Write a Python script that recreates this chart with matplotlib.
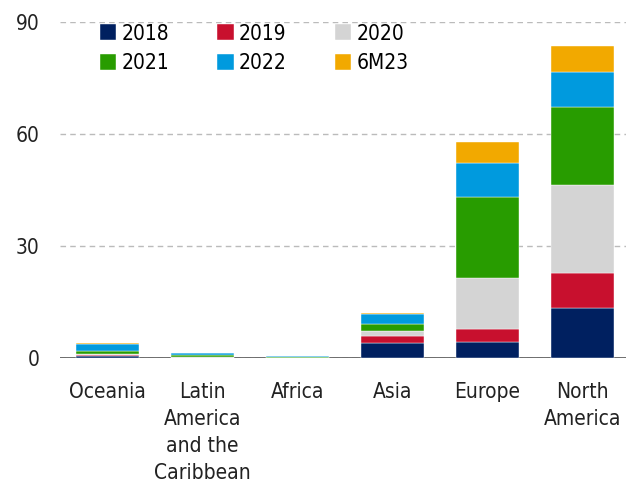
import matplotlib
matplotlib.use("Agg")
import matplotlib.pyplot as plt
import numpy as np

plt.rcParams['font.family'] = ['DejaVu Sans']
plt.rcParams['font.stretch'] = 'condensed'

regions = ['Oceania', 'Latin\nAmerica\nand the\nCaribbean', 'Africa', 'Asia', 'Europe', 'North\nAmerica']
series = ['2018', '2019', '2020', '2021', '2022', '6M23']
v2018 = [0.5, 0.05, 0.05, 3.9, 4.4, 13.4]
v2019 = [0.4, 0.05, 0.02, 2.1, 3.4, 9.4]
v2020 = [0.2, 0.05, 0.02, 1.2, 13.5, 23.6]
v2021 = [0.7, 0.7, 0.3, 2.0, 21.9, 20.8]
v2022 = [2.0, 0.4, 0.02, 2.5, 9.0, 9.4]
v6m23 = [0.1, 0.15, 0.0, 0.3, 5.6, 7.0]
colors = ['#002060', '#C8102E', '#D4D4D4', '#289C00', '#009ADE', '#F2A900']

values = [v2018, v2019, v2020, v2021, v2022, v6m23]

fig = plt.figure(figsize=(6.26, 4.82), dpi=100)
ax = fig.add_axes([60 / 626, 124 / 482, 566 / 626, 336 / 482])

x = np.arange(len(regions))
bottom = np.zeros(len(regions))
handles = []
for name, vals, c in zip(series, values, colors):
    b = ax.bar(x, vals, 0.66, bottom=bottom, color=c, label=name,
               edgecolor='white', linewidth=0.3, zorder=3)
    handles.append(b)
    bottom += np.array(vals)

ax.set_ylim(0, 90)
ax.set_xlim(-0.5, 5.46)
ax.set_yticks([0, 30, 60, 90])
ax.yaxis.grid(True, linestyle=(0, (4, 3)), color='#BBBBBB', linewidth=1)
ax.axhline(0, color='#444444', linewidth=1.8, zorder=2)
ax.set_xticks(x)
ax.set_xticklabels(regions, fontsize=15, linespacing=1.45)
ax.tick_params(axis='both', length=0, labelsize=15, colors='#222222')
ax.tick_params(axis='y', pad=15)
ax.tick_params(axis='x', pad=17)
for s in ax.spines.values():
    s.set_visible(False)

# row-wise legend order
order = [0, 3, 1, 4, 2, 5]
leg = ax.legend([handles[i] for i in order], [series[i] for i in order],
                ncol=3, loc='upper left', bbox_to_anchor=(0.07, 0.995),
                borderaxespad=0, borderpad=0,
                frameon=False, fontsize=15, handlelength=0.8, handleheight=0.8,
                handletextpad=0.25, columnspacing=2.3, labelspacing=0.45)

fig.savefig('out.png', dpi=100)
